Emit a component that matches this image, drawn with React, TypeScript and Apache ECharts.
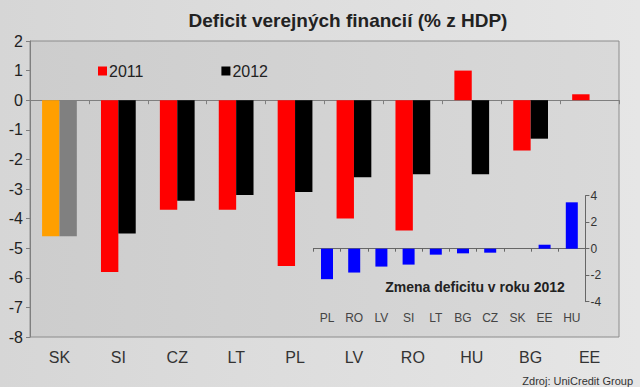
import React, { useEffect, useRef } from "react";
import * as echarts from "echarts";

const categories = ["SK", "SI", "CZ", "LT", "PL", "LV", "RO", "HU", "BG", "EE"];
const deficit2011 = [-4.6, -5.8, -3.7, -3.7, -5.6, -4.0, -4.4, 1.0, -1.7, 0.2];
const deficit2012 = [-4.6, -4.5, -3.4, -3.2, -3.1, -2.6, -2.5, -2.5, -1.3, 0.0];
const insetCategories = ["PL", "RO", "LV", "SI", "LT", "BG", "CZ", "SK", "EE", "HU"];
const insetChange = [-2.3, -1.8, -1.35, -1.2, -0.45, -0.35, -0.3, 0, 0.3, 3.5];

const FONT = "Liberation Sans, Arial, sans-serif";

export default function App() {
  const ref = useRef<HTMLDivElement>(null);
  useEffect(() => {
    document.body.style.margin = "0";
    const chart = echarts.init(ref.current!, null, { renderer: "svg" });
    const axisGray = "#7f7f7f";
    chart.setOption({
      animation: false,
      backgroundColor: {
        type: "linear", x: 0, y: 0, x2: 1, y2: 0,
        colorStops: [
          { offset: 0, color: "#d6d6d6" },
          { offset: 1, color: "#e6e6e6" },
        ],
      },
      textStyle: { fontFamily: FONT },
      title: [
        {
          text: "Deficit verejných financií (% z HDP)",
          left: 343, top: 6, textAlign: "center",
          textStyle: { fontSize: 19, fontWeight: "bold", color: "#222", fontFamily: FONT },
        },
        {
          text: "Zmena deficitu v roku 2012",
          left: 470, top: 275, textAlign: "center",
          textStyle: { fontSize: 14, fontWeight: "bold", color: "#222", fontFamily: FONT },
        },
        {
          text: "Zdroj: UniCredit Group",
          right: 2, top: 370,
          textStyle: { fontSize: 11, fontWeight: "normal", color: "#333", fontFamily: FONT },
        },
      ],
      legend: {
        data: ["2011", "2012"],
        left: 93, top: 58,
        itemWidth: 9, itemHeight: 9, itemGap: 78,
        icon: "rect",
        textStyle: { fontSize: 16, color: "#222", fontFamily: FONT, padding: [0, 0, 0, -3] },
      },
      grid: [
        {
          left: 30, top: 41, width: 589, height: 296,
          show: true,
          backgroundColor: {
            type: "linear", x: 0, y: 0, x2: 1, y2: 0,
            colorStops: [
              { offset: 0, color: "#cdcdcd" },
              { offset: 1, color: "#d9d9d9" },
            ],
          },
          borderColor: "#8c8c8c", borderWidth: 1,
        },
        { left: 313.4, top: 195.7, width: 272, height: 106, show: false },
      ],
      xAxis: [
        {
          type: "category", data: categories, gridIndex: 0, position: "bottom",
          axisLine: { show: false, onZero: false },
          axisTick: { show: false },
          axisLabel: { fontSize: 16, color: "#333", margin: 12, fontFamily: FONT },
        },
        {
          type: "category", data: categories, gridIndex: 0, position: "bottom",
          axisLine: { show: true, onZero: true, lineStyle: { color: axisGray } },
          axisTick: { show: true, length: 4, lineStyle: { color: axisGray } },
          axisLabel: { show: false },
        },
        {
          type: "category", data: insetCategories, gridIndex: 1, position: "bottom",
          axisLine: { show: false, onZero: false },
          axisTick: { show: false },
          axisLabel: { fontSize: 12, color: "#444", margin: 10, fontFamily: FONT },
        },
        {
          type: "category", data: insetCategories, gridIndex: 1, position: "bottom",
          axisLine: { show: true, onZero: true, lineStyle: { color: "#666" } },
          axisTick: { show: true, length: 3, lineStyle: { color: "#666" } },
          axisLabel: { show: false },
        },
      ],
      yAxis: [
        {
          type: "value", gridIndex: 0, min: -8, max: 2, interval: 1,
          axisLine: { show: true, lineStyle: { color: axisGray } },
          axisTick: { show: true, length: 4, lineStyle: { color: axisGray } },
          axisLabel: { fontSize: 16, color: "#222", margin: 7, fontFamily: FONT },
          splitLine: { show: false },
        },
        {
          type: "value", gridIndex: 1, min: -4, max: 4, interval: 2, position: "right",
          axisLine: { show: true, lineStyle: { color: "#666" } },
          axisTick: { show: true, length: 4, lineStyle: { color: "#666" } },
          axisLabel: { fontSize: 12, color: "#333", margin: 5, fontFamily: FONT },
          splitLine: { show: false },
        },
      ],
      series: [
        {
          name: "2011", type: "bar", xAxisIndex: 0, yAxisIndex: 0,
          barGap: "0%", barCategoryGap: "41%",
          itemStyle: { color: "#ff0000" },
          data: deficit2011.map((v, i) =>
            i === 0 ? { value: v, itemStyle: { color: "#ff9f00" } } : v
          ),
        },
        {
          name: "2012", type: "bar", xAxisIndex: 0, yAxisIndex: 0,
          barGap: "0%", barCategoryGap: "41%",
          itemStyle: { color: "#000000" },
          data: deficit2012.map((v, i) =>
            i === 0 ? { value: v, itemStyle: { color: "#808080" } } : v
          ),
        },
        {
          name: "Zmena", type: "bar", xAxisIndex: 2, yAxisIndex: 1,
          barWidth: 12,
          itemStyle: { color: "#0000ff" },
          data: insetChange,
          z: 3,
        },
      ],
    });
    return () => chart.dispose();
  }, []);
  return (
    <div
      ref={ref}
      style={{ position: "fixed", left: 0, top: 0, width: 640, height: 387 }}
    />
  );
}
